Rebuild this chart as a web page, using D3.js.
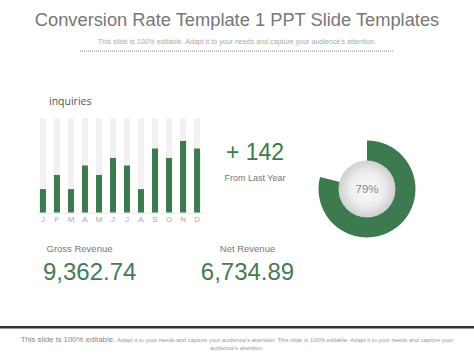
<!DOCTYPE html>
<html><head><meta charset="utf-8">
<script src="https://cdn.jsdelivr.net/npm/d3@7"></script>
<style>body{margin:0;background:#fff}svg{display:block}text{font-family:"Liberation Sans",Arial,sans-serif}</style>
</head><body>
<script>
const months = ["J","F","M","A","M","J","J","A","S","O","N","D"];
const inquiries = [25,40,25,50,40,58,50,25,68,58,76,68];
const inquiryMax = 100;
const growth = "+ 142";
const growthLabel = "From Last Year";
const conversion = [79];
const kpiLabels = ["Gross Revenue","Net Revenue"];
const kpiValues = [9362.74, 6734.89];

const W=474,H=355, green="#3d7a4f";
const svg=d3.select("body").append("svg").attr("width",W).attr("height",H);

svg.append("text").attr("x",237).attr("y",26).attr("text-anchor","middle")
  .attr("font-size",18.3).attr("fill","#777").text("Conversion Rate Template 1 PPT Slide Templates");
svg.append("text").attr("x",237).attr("y",43.5).attr("text-anchor","middle")
  .attr("font-size",7.1).attr("fill","#aaa").text("This slide is 100% editable.  Adapt it to your needs and capture your audience's attention.");
svg.append("line").attr("x1",80).attr("x2",394).attr("y1",51).attr("y2",51)
  .attr("stroke","#888").attr("stroke-width",1).attr("stroke-dasharray","1,1");

// bar chart
const x=d3.scaleBand().domain(d3.range(months.length)).range([36,204]).paddingInner(0.57).paddingOuter(0.28);
const y=d3.scaleLinear().domain([0,inquiryMax]).range([212.7,118.3]);
const g=svg.append("g");
g.selectAll("rect.bg").data(inquiries).join("rect").attr("class","bg")
  .attr("x",(d,i)=>x(i)).attr("width",x.bandwidth()).attr("y",y(inquiryMax)).attr("height",y(0)-y(inquiryMax)).attr("fill","#f1f1f1");
g.selectAll("rect.bar").data(inquiries).join("rect").attr("class","bar")
  .attr("x",(d,i)=>x(i)).attr("width",x.bandwidth()).attr("y",d=>y(d)).attr("height",d=>y(0)-y(d)).attr("fill",green);
g.append("line").attr("x1",37).attr("x2",204).attr("y1",y(0)+0.5).attr("y2",y(0)+0.5).attr("stroke","#e6e6e6");
const ax=svg.append("g").attr("transform",`translate(0,${y(0)})`)
  .call(d3.axisBottom(x).tickFormat(i=>months[i]).tickSize(0).tickPadding(4));
ax.select(".domain").remove();
ax.selectAll("text").attr("font-size",8).attr("fill","#aaa").attr("font-family","Liberation Sans,Arial,sans-serif");
svg.append("text").attr("x",49).attr("y",105).attr("font-size",10.5).attr("fill","#555")
  .style("font-family","'Open Sans',sans-serif").text("inquiries");

// growth
svg.append("text").attr("x",255).attr("y",160).attr("text-anchor","middle").attr("font-size",23)
  .attr("fill",green).text(growth);
svg.append("text").attr("x",255).attr("y",180.5).attr("text-anchor","middle").attr("font-size",9)
  .attr("fill","#777").text(growthLabel);

// donut
const cx=367,cy=189;
const defs=svg.append("defs");
const rg=defs.append("radialGradient").attr("id","rg").attr("cx","50%").attr("cy","50%").attr("r","50%");
rg.append("stop").attr("offset","0%").attr("stop-color","#fbfbfb");
rg.append("stop").attr("offset","60%").attr("stop-color","#ededed");
rg.append("stop").attr("offset","100%").attr("stop-color","#cfcfcf");
const pie=d3.pie().sort(null).value(d=>d);
const arc=d3.arc().innerRadius(27).outerRadius(48.5);
const dg=svg.append("g").attr("transform",`translate(${cx},${cy})`);
dg.selectAll("path").data(pie([conversion[0],100-conversion[0]])).join("path")
  .attr("d",arc).attr("fill",(d,i)=>i===0?green:"none");
dg.append("circle").attr("r",28.5).attr("fill","url(#rg)");
dg.append("text").attr("y",4).attr("text-anchor","middle").attr("font-size",11.5).attr("fill","#888").text(conversion[0]+"%");

// KPIs
const fmt=d3.format(",.2f");
const kx=[46.5,247.5], anchors=["start","middle"], vx=[43,247.5];
kpiLabels.forEach((l,i)=>{
  svg.append("text").attr("x",kx[i]).attr("y",251.5).attr("text-anchor",anchors[i]).attr("font-size",9.5).attr("fill","#777").text(l);
  svg.append("text").attr("x",vx[i]).attr("y",280).attr("text-anchor",anchors[i]).attr("font-size",24).attr("fill","#467a56").text(fmt(kpiValues[i]));
});

// footer
svg.append("rect").attr("x",0).attr("y",326).attr("width",W).attr("height",2.5).attr("fill","#333");
const ft=svg.append("text").attr("x",237).attr("y",342).attr("text-anchor","middle").attr("fill","#999");
ft.append("tspan").attr("font-size",7.8).attr("fill","#888").text("This slide is 100% editable. ");
ft.append("tspan").attr("font-size",5.9).text("Adapt it to your needs and capture your audience's attention. This slide is 100% editable. Adapt it to your needs and capture your");
svg.append("text").attr("x",237).attr("y",349.5).attr("text-anchor","middle").attr("font-size",5.9).attr("fill","#999").text("audience's attention.");
</script>
</body></html>
